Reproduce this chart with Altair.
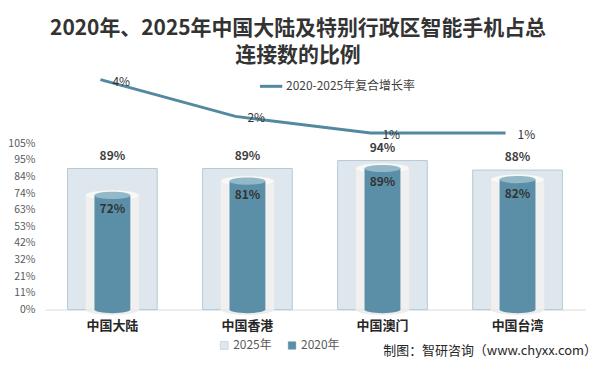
import json
import altair as alt
import pandas as pd

categories = ["中国大陆", "中国香港", "中国澳门", "中国台湾"]
share_2025 = [0.89, 0.89, 0.94, 0.88]
share_2020 = [0.72, 0.81, 0.89, 0.82]
cagr = [0.04, 0.02, 0.011, 0.011]
tick_values = [0, 0.105, 0.21, 0.315, 0.42, 0.525, 0.63, 0.735, 0.84, 0.945, 1.05]
tick_labels = ["0%", "11%", "21%", "32%", "42%", "53%", "63%", "74%", "84%", "95%", "105%"]
series_names = ["2025年", "2020年"]
line_name = "2020-2025年复合增长率"
title_lines = ["2020年、2025年中国大陆及特别行政区智能手机占总", "连接数的比例"]
source_text = "制图：智研咨询（www.chyxx.com）"

FONT = "Noto Sans CJK SC"
TEAL = "#5a8fa7"
LIGHT = "#dee7ed"

df = pd.DataFrame({
    "cat": categories,
    "v25": share_2025,
    "v20": share_2020,
    "cagr": cagr,
})
df["l25"] = [f"{round(v * 100)}%" for v in share_2025]
df["l20"] = [f"{round(v * 100)}%" for v in share_2020]
df["lc"] = [f"{round(v * 100)}%" for v in cagr]
df["zero"] = 0.0

label_expr = json.dumps(tick_labels) + "[round(datum.value / 0.105)]"

x_enc = alt.X(
    "cat:N", sort=categories,
    scale=alt.Scale(paddingInner=0.336, paddingOuter=0.168),
    axis=alt.Axis(title=None, labelAngle=0, ticks=False, domainColor="#d9d9d9",
                  labelFontSize=13, labelFontWeight="bold", labelColor="#262626",
                  labelPadding=10, labelFont=FONT, grid=False),
)
y_scale = alt.Scale(domain=[0, 1.509], nice=False, zero=True)
y_axis = alt.Axis(title=None, values=tick_values, labelExpr=label_expr, domain=False,
                  ticks=False, grid=False, labelFontSize=10.5, labelColor="#595959",
                  labelPadding=10, labelFont=FONT, labelOverlap=False)

fill_scale = alt.Scale(domain=series_names, range=[LIGHT, TEAL])
fill_legend = alt.Legend(title=None, orient="none", legendX=174, legendY=270,
                         direction="horizontal", symbolType="square", symbolSize=64,
                         symbolStrokeColor="#a9c2cf", symbolStrokeWidth=0.5,
                         labelFontSize=12, labelColor="#595959", labelFont=FONT,
                         columnPadding=14, labelOffset=3)

ellipse = "M -1 0 A 1 0.2 0 1 0 1 0 A 1 0.2 0 1 0 -1 0 Z"

base = alt.Chart(df).encode(x=x_enc)


def yq(field):
    return alt.Y(field, type="quantitative", scale=y_scale, axis=y_axis)


rect25 = base.mark_bar(stroke="#b5cad6", strokeWidth=1).transform_calculate(
    s='"2025年"'
).encode(
    y=yq("v25"),
    fill=alt.Fill("s:N", scale=fill_scale, legend=fill_legend),
)
label25 = base.mark_text(baseline="bottom", dy=-6, fontWeight="bold", fontSize=12,
                         color="#404040", font=FONT).encode(
    y=yq("v25"), text="l25:N")

glass_bottom = base.mark_point(shape=ellipse, size=54 * 54, filled=True, color="#ededed",
                               opacity=1).encode(y=yq("zero"))
glass = base.mark_bar(size=54, color="#f0f0f0", stroke="#e4e4e4", strokeWidth=0.5).encode(
    y=yq("v20"))
glass_top = base.mark_point(shape=ellipse, size=54 * 54, filled=True, color="#f8f8f8",
                            stroke="#e2e2e2", strokeWidth=0.5, opacity=1).encode(y=yq("v20"))
teal_bottom = base.mark_point(shape=ellipse, size=36 * 36, filled=True, color=TEAL,
                              opacity=1).encode(y=yq("zero"))
teal = base.mark_bar(size=36).transform_calculate(s='"2020年"').encode(
    y=yq("v20"), fill=alt.Fill("s:N", scale=fill_scale, legend=fill_legend))
teal_top = base.mark_point(shape=ellipse, size=36 * 36, filled=True, color="#93b8c8",
                           opacity=1).encode(y=yq("v20"))
label20 = base.mark_text(baseline="top", dy=9, fontWeight="bold", fontSize=12,
                         color="#333333", font=FONT).encode(y=yq("v20"), text="l20:N")

bars = alt.layer(rect25, label25, glass_bottom, glass, glass_top, teal_bottom, teal,
                 teal_top, label20)

line_scale = alt.Scale(domain=[-0.085, 0.045], nice=False, zero=False)
line = base.mark_line(strokeWidth=3, xOffset=-12).transform_calculate(
    s2='"' + line_name + '"'
).encode(
    y=alt.Y("cagr:Q", scale=line_scale, axis=None),
    stroke=alt.Stroke("s2:N", scale=alt.Scale(domain=[line_name], range=["#5289a1"]),
                      legend=alt.Legend(title=None, orient="none", legendX=214, legendY=3,
                                        symbolType="stroke", symbolStrokeWidth=3,
                                        symbolSize=500, labelFontSize=12,
                                        labelColor="#404040", labelFont=FONT,
                                        labelOffset=2)),
)
line_labels = base.mark_text(align="left", baseline="middle", dx=12, dy=2, xOffset=-12,
                             fontSize=12, color="#333333", font=FONT).encode(
    y=alt.Y("cagr:Q", scale=line_scale, axis=None), text="lc:N")
lines = alt.layer(line, line_labels)

src = alt.Chart(pd.DataFrame({"t": [source_text]})).mark_text(
    align="right", baseline="middle", fontSize=13, color="#262626", font=FONT
).encode(x=alt.value(554), y=alt.value(282), text="t:N")

chart = alt.layer(bars, lines, src).resolve_scale(y="independent").properties(
    width=542, height=240,
    background="white",
    title=alt.TitleParams(text=title_lines, fontSize=21, fontWeight="bold", color="#333333",
                          font=FONT, anchor="middle", offset=4, lineHeight=28, dx=-17),
    autosize=alt.AutoSizeParams(type="none"),
    padding={"left": 37, "top": 62, "right": 12, "bottom": 49},
).configure_view(stroke=None).configure_axisY(labelOverlap=False)

chart.save("out.html", embed_options={"renderer": "svg", "actions": False})
